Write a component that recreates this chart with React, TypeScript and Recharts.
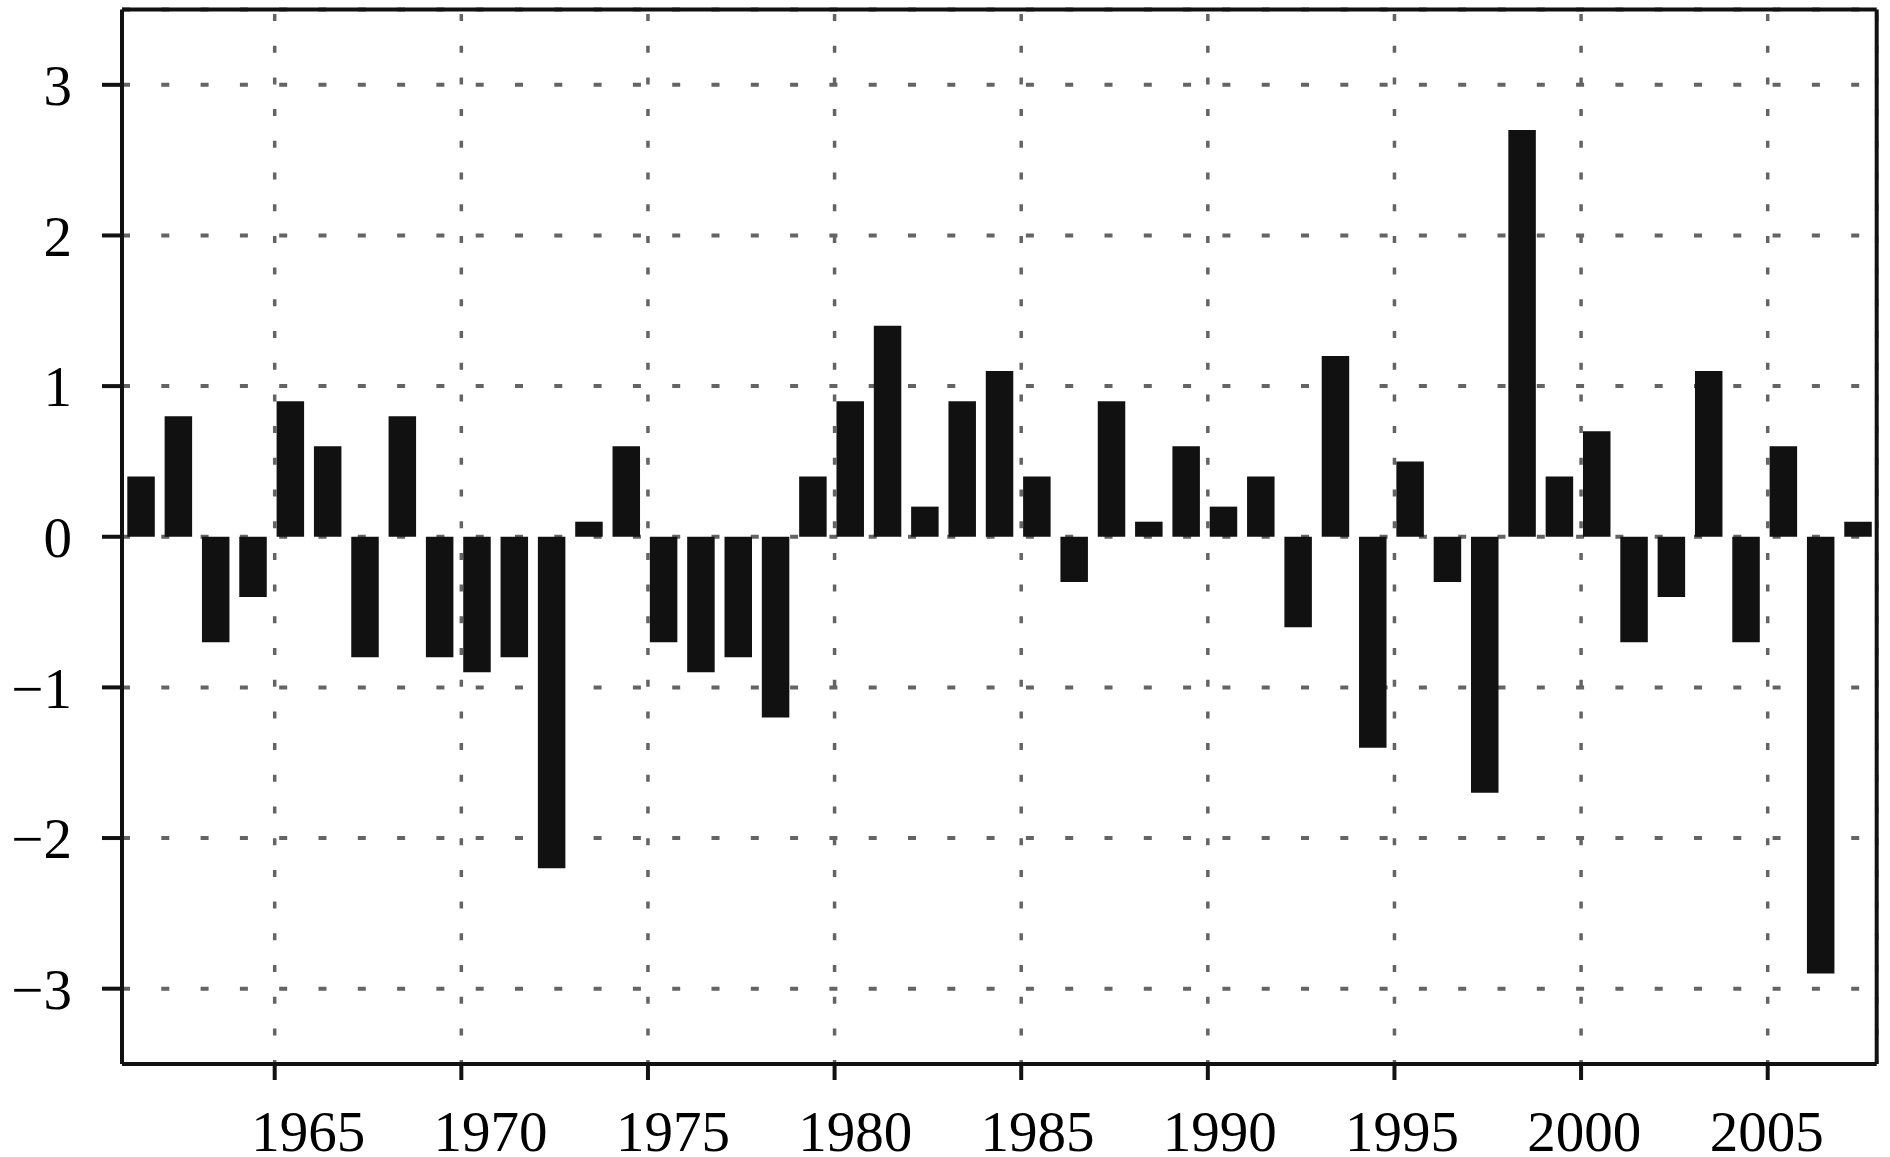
import { BarChart, Bar, XAxis, YAxis, CartesianGrid, ReferenceLine } from "recharts";

const years = [
  1961, 1962, 1963, 1964, 1965, 1966, 1967, 1968, 1969, 1970,
  1971, 1972, 1973, 1974, 1975, 1976, 1977, 1978, 1979, 1980,
  1981, 1982, 1983, 1984, 1985, 1986, 1987, 1988, 1989, 1990,
  1991, 1992, 1993, 1994, 1995, 1996, 1997, 1998, 1999, 2000,
  2001, 2002, 2003, 2004, 2005, 2006, 2007,
];

const values = [
  0.4, 0.8, -0.7, -0.4, 0.9, 0.6, -0.8, 0.8, -0.8, -0.9,
  -0.8, -2.2, 0.1, 0.6, -0.7, -0.9, -0.8, -1.2, 0.4, 0.9,
  1.4, 0.2, 0.9, 1.1, 0.4, -0.3, 0.9, 0.1, 0.6, 0.2,
  0.4, -0.6, 1.2, -1.4, 0.5, -0.3, -1.7, 2.7, 0.4, 0.7,
  -0.7, -0.4, 1.1, -0.7, 0.6, -2.9, 0.1,
];

const yearTicks = [1965, 1970, 1975, 1980, 1985, 1990, 1995, 2000, 2005];
const valueTicks = [-3, -2, -1, 0, 1, 2, 3];

const data = years.map((year, i) => ({ year, value: values[i] }));

const FONT = "'Liberation Serif', 'Times New Roman', serif";
const INK = "#111";
const GRID = "#646464";

// frame / tick axis; bars sit a bit right of each year tick
const tickDomain: [number, number] = [1960.909, 2007.92];
const barDomain: [number, number] = [1960.492, 2007.503];

// year labels in the original drift left of their ticks toward the right end
const labelShift = (v: number) => 33.6 - 0.867 * (v - 1965);

const fmt = (v: number) => (v < 0 ? `\u2212${-v}` : `${v}`);

const YearTick = (props: any) => {
  const { x, y, payload } = props;
  return (
    <text
      x={x + labelShift(payload.value)}
      y={y}
      dy={71}
      textAnchor="middle"
      fontSize={57}
      fontFamily={FONT}
      fill="#000"
    >
      {payload.value}
    </text>
  );
};

export default function App() {
  return (
    <div style={{ position: "absolute", left: 0, top: 0, background: "#fff" }}>
      <BarChart
        width={1890}
        height={1157}
        data={data}
        margin={{ top: 9.5, right: 13.3, left: 0, bottom: 0 }}
      >
        <CartesianGrid
          horizontal={true}
          vertical={false}
          stroke={GRID}
          strokeWidth={4}
          strokeDasharray="8 31.3"
        />
        <CartesianGrid
          horizontal={false}
          vertical={true}
          stroke={GRID}
          strokeWidth={3.5}
          strokeDasharray="7 24.7"
          strokeDashoffset={27.2}
        />
        <XAxis
          dataKey="year"
          type="number"
          domain={tickDomain}
          allowDataOverflow
          ticks={yearTicks}
          interval={0}
          tick={<YearTick />}
          tickSize={16}
          tickMargin={0}
          tickLine={{ stroke: INK, strokeWidth: 4 }}
          axisLine={{ stroke: INK, strokeWidth: 4 }}
          height={93}
        />
        <XAxis
          xAxisId="bars"
          dataKey="year"
          type="number"
          domain={barDomain}
          allowDataOverflow
          hide
        />
        <YAxis
          type="number"
          domain={[-3.5, 3.5]}
          allowDataOverflow
          ticks={valueTicks}
          interval={0}
          width={122}
          tickSize={20}
          tickMargin={30}
          tickFormatter={fmt}
          tickLine={{ stroke: INK, strokeWidth: 4 }}
          axisLine={{ stroke: INK, strokeWidth: 4 }}
          tick={{ fontSize: 57, fill: "#000", fontFamily: FONT }}
        />
        <ReferenceLine y={3.5} stroke={INK} strokeWidth={4} />
        <ReferenceLine x={tickDomain[1]} stroke={INK} strokeWidth={4} />
        <Bar
          xAxisId="bars"
          dataKey="value"
          fill={INK}
          barSize={27.5}
          isAnimationActive={false}
        />
      </BarChart>
    </div>
  );
}
